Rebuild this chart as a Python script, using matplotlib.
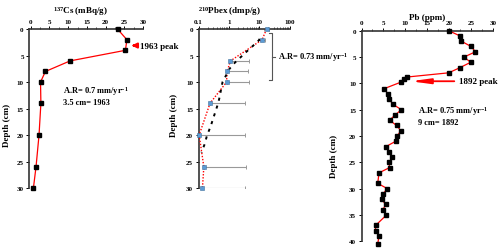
import matplotlib
matplotlib.use("Agg")
import matplotlib.pyplot as plt
import numpy as np

plt.rcParams['font.family'] = ['Liberation Serif', 'DejaVu Serif']
plt.rcParams['font.weight'] = 'bold'
plt.rcParams['mathtext.fontset'] = 'custom'
plt.rcParams['mathtext.rm'] = 'Liberation Serif:bold'
plt.rcParams['mathtext.it'] = 'Liberation Serif:bold'
plt.rcParams['mathtext.bf'] = 'Liberation Serif:bold'

# 137Cs profile
cs_depth = [0, 2, 4, 6, 8, 10, 14, 20, 26, 30]
cs_value = [23.2, 25.7, 25.3, 10.5, 3.9, 2.6, 2.7, 2.2, 1.4, 0.7]

# 210Pb excess profile
pb210_depth = [0, 2, 6, 8, 10, 14, 20, 26, 30]
pb210_value = [17.5, 12.5, 1.13, 0.88, 0.84, 0.24, 0.105, 0.15, 0.135]
pb210_err = [3.5, 3.5, 3.5, 3.5, 3.7, 3.3, 3.4, 3.4, 3.4]
fit_depth = [1.9, 3.1, 4.1, 5.3, 6.3, 7.5, 8.8, 10, 11.2, 12.3, 13.9, 15.4, 17, 18.4, 20.1, 21.7, 23.3]
fit_value = [10.7, 6.4, 4.1, 2.45, 1.6, 1.05, 0.8, 0.62, 0.56, 0.52, 0.45, 0.37, 0.30, 0.25, 0.19, 0.16, 0.125]

# stable Pb profile
pb_depth = [0, 1, 2, 3, 4, 5, 6, 7, 8, 8.8, 9.1, 9.8, 11, 12, 13, 14, 15, 16, 17, 18, 19,
            20, 21, 22, 23, 24, 25, 26, 27, 29, 30, 31, 32, 33, 34, 35, 37, 38, 39, 40.5]
pb_value = [19.9, 22.5, 22.8, 25.0, 26.0, 23.4, 24.9, 22.5, 19.9, 10.4, 9.7, 8.9, 5.2, 6.0, 6.3, 7.2,
            9.1, 7.7, 6.4, 8.0, 9.0, 8.1, 7.8, 5.6, 6.2, 7.0, 6.3, 6.4, 4.0, 3.7, 5.9, 4.9, 4.6, 5.5,
            4.9, 5.7, 3.2, 3.2, 4.0, 3.7]

fig = plt.figure(figsize=(5, 2.51), dpi=100)
ax1 = fig.add_axes([0.0586, 0.247, 0.2274, 0.633])
ax2 = fig.add_axes([0.397, 0.247, 0.182, 0.633])
ax3 = fig.add_axes([0.723, 0.0347, 0.263, 0.839])


def style(ax):
    for s in ['right', 'bottom']:
        ax.spines[s].set_visible(False)
    for s in ['top', 'left']:
        ax.spines[s].set_linewidth(1.2)
        ax.spines[s].set_color('#333333')
    ax.xaxis.tick_top()
    ax.tick_params(which='major', length=2.5, width=0.7, labelsize=5, pad=1.5)
    ax.tick_params(which='minor', length=1.5, width=0.5)
    ax.tick_params(axis='y', which='both', right=False)
    for lab in ax.get_xticklabels() + ax.get_yticklabels():
        lab.set_fontweight('bold')


# panel 1 - Cs
ax1.plot(cs_value, cs_depth, color='red', lw=0.9, marker='s', ms=2.4,
         mfc='black', mec='black', clip_on=False, zorder=3)
ax1.set_xlim(-0.4, 30)
ax1.set_ylim(30, 0)
ax1.set_xticks(np.arange(0, 31, 5))
ax1.set_xticks(np.arange(0, 30, 2.5), minor=True)
ax1.set_yticks(np.arange(0, 31, 5))
style(ax1)
ax1.text(0.45, 1.12, r'$^{137}$Cs (mBq/g)', transform=ax1.transAxes, ha='center',
         va='center', fontsize=6.5, fontweight='bold')
ax1.set_ylabel('Depth (cm)', fontsize=6.5, fontweight='bold')
ax1.yaxis.set_label_coords(-0.165, 0.40)
ax1.annotate('', xy=(26.2, 3.1), xytext=(28.8, 3.1),
             arrowprops=dict(arrowstyle='-|>', color='red', lw=1.6, mutation_scale=7),
             annotation_clip=False)
ax1.text(29.3, 3.1, '1963 peak', fontsize=6.5, va='center', ha='left', fontweight='bold')
ax1.text(8.6, 11.5, r'A.R= 0.7 mm/yr$^{-1}$', fontsize=6, va='center', fontweight='bold')
ax1.text(8.6, 13.8, '3.5 cm= 1963', fontsize=6, va='center', fontweight='bold')

# panel 2 - 210Pb excess
x2 = np.array(pb210_value)
e2 = np.array(pb210_err)
lower = np.where(x2 - e2 > 0, e2, 0)
ax2.errorbar(pb210_value, pb210_depth, xerr=[lower, e2], fmt='none', ecolor='#999999',
             elinewidth=0.8, capsize=1.5, capthick=0.7, zorder=2)
ax2.plot(pb210_value, pb210_depth, color='red', lw=1.0, ls=(0, (1, 1.2)), zorder=3)
ax2.plot(pb210_value, pb210_depth, ls='none', marker='s', ms=3.0, mfc='#5b9bd5',
         mec='#41719c', mew=0.4, zorder=4, clip_on=False)
ax2.plot(fit_value, fit_depth, color='black', lw=1.4, ls=(0, (1.6, 2.6)), zorder=3)
ax2.set_xscale('log')
ax2.set_xlim(0.1, 100)
ax2.set_ylim(30, 0)
ax2.set_yticks(np.arange(0, 31, 5))
style(ax2)
ax2.set_xticks([0.1, 1, 10, 100])
ax2.set_xticklabels(['0.1', '1', '10', '100'], fontweight='bold')
ax2.text(0.34, 1.12, r'$^{210}$Pbex (dmp/g)', transform=ax2.transAxes, ha='center',
         va='center', fontsize=6.5, fontweight='bold')
ax2.set_ylabel('Depth (cm)', fontsize=6.5, fontweight='bold')
ax2.yaxis.set_label_coords(-0.225, 0.465)
# brace beside the upper part
tb = ax2.get_yaxis_transform()
ax2.plot([0.78, 0.81, 0.81, 0.78], [0.75, 0.75, 9.6, 9.6], color='#555555', lw=0.8,
         transform=tb, clip_on=False)
ax2.plot([0.81, 0.84], [5.2, 5.2], color='#555555', lw=0.8, transform=tb, clip_on=False)
ax2.text(0.875, 5.2, r'A.R= 0.73 mm/yr$^{-1}$', transform=tb, fontsize=6, va='center',
         ha='left', fontweight='bold')

# panel 3 - Pb
ax3.plot(pb_value, pb_depth, color='red', lw=0.9, marker='s', ms=2.2,
         mfc='black', mec='black', clip_on=False, zorder=3)
ax3.set_xlim(0, 30)
ax3.set_ylim(40, 0)
ax3.set_xticks(np.arange(0, 31, 5))
ax3.set_xticks(np.arange(0, 30, 2.5), minor=True)
ax3.set_yticks(np.arange(0, 41, 5))
style(ax3)
ax3.text(0.5, 1.065, 'Pb (ppm)', transform=ax3.transAxes, ha='center', va='center',
         fontsize=6.5, fontweight='bold')
ax3.set_ylabel('Depth (cm)', fontsize=6.5, fontweight='bold')
ax3.yaxis.set_label_coords(-0.178, 0.406)
ax3.annotate('', xy=(10.6, 9.6), xytext=(21.8, 9.6),
             arrowprops=dict(arrowstyle='-|>,head_length=1.6,head_width=0.22', color='red',
                             lw=1.3, mutation_scale=7))
ax3.text(22.2, 9.6, '1892 peak', fontsize=6.5, va='center', ha='left', fontweight='bold')
ax3.text(12.9, 15.1, r'A.R= 0.75 mm/yr$^{-1}$', fontsize=6, va='center', fontweight='bold')
ax3.text(12.9, 17.4, '9 cm= 1892', fontsize=6, va='center', fontweight='bold')

fig.savefig('out.png', dpi=100)
